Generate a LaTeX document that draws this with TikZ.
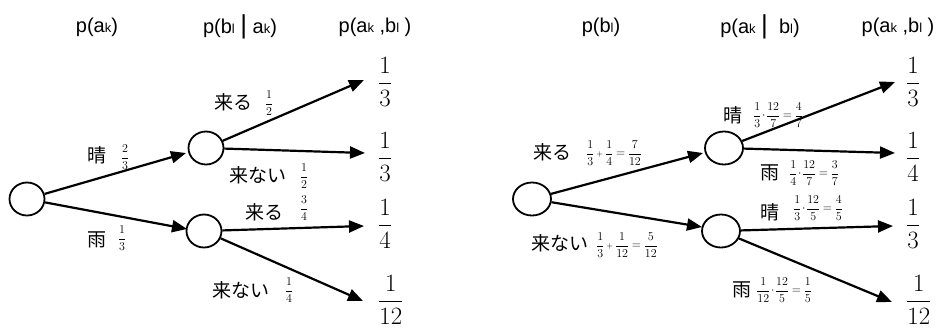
\documentclass[tikz,border=0pt]{standalone}
\usepackage{amsmath}
\usepackage{fontspec}
\setmainfont{Liberation Serif}
\setsansfont{Liberation Sans}
\newfontfamily\jp{Noto Sans CJK JP}
\usetikzlibrary{arrows.meta,shapes.geometric}

% tight operators used inside the branch formulas
\newcommand\splus{\mskip3mu{\scriptstyle+}\mskip3mu}
\newcommand\seq{\mskip4mu{=}\mskip4mu}
\newcommand\sdot{\mskip1mu{\cdot}\mskip1mu}
% subscript-like small letter on the baseline
\newcommand\lo[1]{{\fontsize{13}{13}\selectfont #1}}
\newcommand\vsep{{\fontsize{26}{26}\selectfont |}}

\begin{document}
\begin{tikzpicture}[x=1pt,y=-1pt,
  state/.style={ellipse,draw,line width=1.8pt,minimum width=35pt,minimum height=33pt,inner sep=0pt},
  branch/.style={line width=2.2pt,-{Triangle[length=15pt,width=12pt]}},
  head/.style={font=\sffamily\fontsize{20}{22}\selectfont,inner sep=0pt},
  word/.style={font=\jp\fontsize{19}{21}\selectfont,inner sep=0pt},
  prob/.style={font=\fontsize{12}{14}\selectfont,inner sep=0pt},
  formula/.style={font=\fontsize{12}{14}\selectfont,inner sep=0pt,anchor=west},
  joint/.style={font=\fontsize{24}{28}\selectfont,inner sep=0pt,anchor=west},
]
\path[use as bounding box] (0,0) rectangle (944,330);

% ---------- tree ordered by weather first ----------
\node[head] (h1) at (97,27) {p(a\lo{k})};
\node[head] (h2) at (240,27) {p(b\lo{l} \vsep{} a\lo{k})};
\node[head] (h3) at (375,27) {p(a\lo{k} ,b\lo{l} )};

\node[state] (a0) at (27,199) {};
\node[state] (a1) at (206,148) {};
\node[state] (a2) at (204,231) {};

\coordinate (ta1) at (186,153);
\coordinate (ta2) at (187,229);
\coordinate (t11) at (364,80);
\coordinate (t12) at (365,153);
\coordinate (t21) at (364,226);
\coordinate (t22) at (363,301);

\draw[branch] (a0) -- (ta1);
\draw[branch] (a0) -- (ta2);
\draw[branch] (a1) -- (t11);
\draw[branch] (a1) -- (t12);
\draw[branch] (a2) -- (t21);
\draw[branch] (a2) -- (t22);

\node[joint] (j11) at (378,82) {$\dfrac{1}{3}$};
\node[joint] (j12) at (378,157) {$\dfrac{1}{3}$};
\node[joint] (j21) at (378,224) {$\dfrac{1}{4}$};
\node[joint] (j22) at (378,300) {$\dfrac{1}{12}$};

\node[word] (w1) at (97,155) {晴};
\node[prob] (p1) at (125,157) {$\dfrac{2}{3}$};
\node[word] (w2) at (97,240) {雨};
\node[prob] (p2) at (122,238) {$\dfrac{1}{3}$};
\node[word] (w3) at (233,102) {来る};
\node[prob] (p3) at (269,103) {$\dfrac{1}{2}$};
\node[word] (w4) at (258,175) {来ない};
\node[prob] (p4) at (304,176) {$\dfrac{1}{2}$};
\node[word] (w5) at (264,212) {来る};
\node[prob] (p5) at (304,208) {$\dfrac{3}{4}$};
\node[word] (w6) at (241,290) {来ない};
\node[prob] (p6) at (289,290) {$\dfrac{1}{4}$};

% ---------- tree ordered by arrival first ----------
\node[head] (g1) at (601,27) {p(b\lo{l})};
\node[head] (g2) at (760,27) {p(a\lo{k} \vsep{}\ \ b\lo{l})};
\node[head] (g3) at (898,27) {p(a\lo{k} ,b\lo{l} )};

\node[state,minimum width=38pt] (b0) at (532,199) {};
\node[state,minimum width=38pt] (b1) at (724,148) {};
\node[state,minimum width=38pt] (b2) at (721,231) {};

\coordinate (tb1) at (703,153);
\coordinate (tb2) at (702,227);
\coordinate (s11) at (895,82);
\coordinate (s12) at (895,153);
\coordinate (s21) at (893,226);
\coordinate (s22) at (892,302);

\draw[branch] (b0) -- (tb1);
\draw[branch] (b0) -- (tb2);
\draw[branch] (b1) -- (s11);
\draw[branch] (b1) -- (s12);
\draw[branch] (b2) -- (s21);
\draw[branch] (b2) -- (s22);

\node[joint] (k11) at (906,82) {$\dfrac{1}{3}$};
\node[joint] (k12) at (906,157) {$\dfrac{1}{4}$};
\node[joint] (k21) at (906,224) {$\dfrac{1}{3}$};
\node[joint] (k22) at (906,300) {$\dfrac{1}{12}$};

\node[word] (v1) at (552,152) {来る};
\node[formula] (f1) at (586,153) {$\dfrac{1}{3}\splus\dfrac{1}{4}\seq\dfrac{7}{12}$};
\node[word] (v2) at (560,243) {来ない};
\node[formula] (f2) at (596,245) {$\dfrac{1}{3}\splus\dfrac{1}{12}\seq\dfrac{5}{12}$};
\node[word] (v3) at (733,115) {晴};
\node[formula] (f3) at (753,115) {$\dfrac{1}{3}\sdot\dfrac{12}{7}\seq\dfrac{4}{7}$};
\node[word] (v4) at (770,173) {雨};
\node[formula] (f4) at (789,173) {$\dfrac{1}{4}\sdot\dfrac{12}{7}\seq\dfrac{3}{7}$};
\node[word] (v5) at (770,212) {晴};
\node[formula] (f5) at (793,208) {$\dfrac{1}{3}\sdot\dfrac{12}{5}\seq\dfrac{4}{5}$};
\node[word] (v6) at (742,290) {雨};
\node[formula] (f6) at (756,290) {$\dfrac{1}{12}\sdot\dfrac{12}{5}\seq\dfrac{1}{5}$};
\end{tikzpicture}
\end{document}
